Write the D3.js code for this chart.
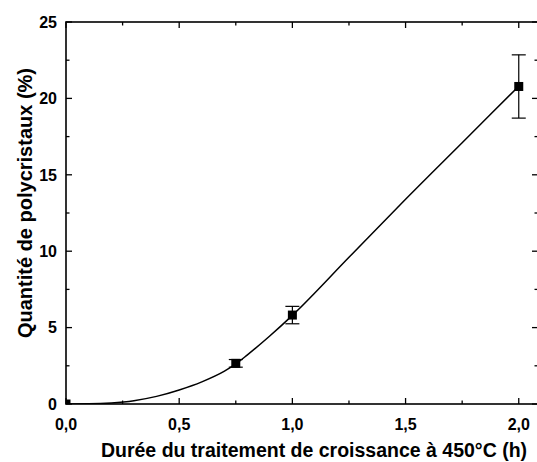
<!DOCTYPE html>
<html><head><meta charset="utf-8">
<script src="https://cdn.jsdelivr.net/npm/d3@7"></script>
<style>body{margin:0;background:#fff}svg{display:block}text{font-family:"Liberation Sans",Arial,sans-serif;font-weight:bold;fill:#000}</style>
</head><body><svg id="c" width="537" height="462"></svg>
<script>
const pointX = [0, 0.75, 1.0, 2.0];
const pointY = [0, 2.66, 5.82, 20.78];
const pointErr = [0, 0.25, 0.57, 2.07];
const curveX = [0, 0.1, 0.2, 0.3, 0.4, 0.5, 0.6, 0.7, 0.75, 0.8, 0.9, 1.0, 1.25, 1.5, 1.75, 2.0];
const curveY = [0, 0.01, 0.07, 0.22, 0.5, 0.92, 1.45, 2.15, 2.62, 3.2, 4.45, 5.8, 9.6, 13.4, 17.1, 20.8];
const xTicks = [0, 0.5, 1.0, 1.5, 2.0];
const xTickLabels = ["0,0", "0,5", "1,0", "1,5", "2,0"];
const yTicks = [0, 5, 10, 15, 20, 25];
const xLabel = "Durée du traitement de croissance à 450°C (h)";
const yLabel = "Quantité de polycristaux (%)";

const svg = d3.select("#c");
const L = 66, R = 538, T = 22, B = 404;
const x = d3.scaleLinear().domain([0, 2.085]).range([L, R]);
const y = d3.scaleLinear().domain([0, 25]).range([B, T]);

const minorX = d3.range(0, 2.01, 0.25);
const minorY = d3.range(0, 25.01, 2.5);
const g = svg.append("g").attr("stroke", "#000").attr("stroke-width", 1.3);
minorX.forEach(v => {
  const len = (Math.abs(v * 2 - Math.round(v * 2)) < 1e-6) ? 6 : 3.5;
  g.append("line").attr("x1", x(v)).attr("x2", x(v)).attr("y1", B).attr("y2", B - len);
  g.append("line").attr("x1", x(v)).attr("x2", x(v)).attr("y1", T).attr("y2", T + len);
});
minorY.forEach(v => {
  const len = (Math.abs(v / 5 - Math.round(v / 5)) < 1e-6) ? 6 : 3.5;
  g.append("line").attr("y1", y(v)).attr("y2", y(v)).attr("x1", L).attr("x2", L + len);
  g.append("line").attr("y1", y(v)).attr("y2", y(v)).attr("x1", R).attr("x2", R - len);
});
svg.append("rect").attr("x", L).attr("y", T).attr("width", R - L).attr("height", B - T)
  .attr("fill", "none").attr("stroke", "#000").attr("stroke-width", 1.6);

xTicks.forEach((v, i) => {
  svg.append("text").attr("x", x(v)).attr("y", 430).attr("text-anchor", "middle")
    .attr("font-size", 16).text(xTickLabels[i]);
});
yTicks.forEach(v => {
  svg.append("text").attr("x", 57).attr("y", y(v) + 5.8).attr("text-anchor", "end")
    .attr("font-size", 16).text(v);
});
svg.append("text").attr("x", 314).attr("y", 457).attr("text-anchor", "middle")
  .attr("font-size", 19.5).text(xLabel);
svg.append("text").attr("transform", "translate(32,203) rotate(-90)").attr("text-anchor", "middle")
  .attr("font-size", 20).text(yLabel);

svg.append("clipPath").attr("id", "clip").append("rect")
  .attr("x", L).attr("y", T).attr("width", R - L).attr("height", B - T);
const plot = svg.append("g").attr("clip-path", "url(#clip)");

const line = d3.line().x(d => x(d[0])).y(d => y(d[1])).curve(d3.curveMonotoneX);
plot.append("path").datum(curveX.map((v, i) => [v, curveY[i]]))
  .attr("d", line).attr("fill", "none").attr("stroke", "#000").attr("stroke-width", 1.5);

pointX.forEach((v, i) => {
  const e = pointErr[i];
  if (e > 0) {
    const cx = x(v), cap = 7;
    plot.append("line").attr("x1", cx).attr("x2", cx).attr("y1", y(pointY[i] - e)).attr("y2", y(pointY[i] + e))
      .attr("stroke", "#000").attr("stroke-width", 1.2);
    [pointY[i] - e, pointY[i] + e].forEach(w => {
      plot.append("line").attr("x1", cx - cap).attr("x2", cx + cap).attr("y1", y(w)).attr("y2", y(w))
        .attr("stroke", "#000").attr("stroke-width", 1.2);
    });
  }
  plot.append("rect").attr("x", x(v) - 4.5).attr("y", y(pointY[i]) - 4.5)
    .attr("width", 9).attr("height", 9).attr("fill", "#000");
});
</script></body></html>
